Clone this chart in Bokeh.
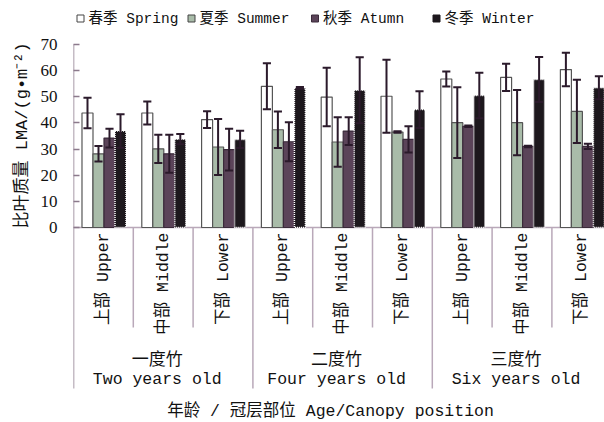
import math
from bokeh.plotting import figure
from bokeh.models import Range1d, FixedTicker, Title
from bokeh.core.properties import value
from bokeh.embed import file_html
from bokeh.resources import INLINE

# ---- data: leaf mass per area by stand age, canopy position and season ----
ages_cn = ["一度竹", "二度竹", "三度竹"]
ages_en = ["Two years old", "Four years old", "Six years old"]
positions = ["上部 Upper", "中部 Middle", "下部 Lower"]
seasons = ["春季 Spring", "夏季 Summer", "秋季 Atumn", "冬季 Winter"]
y_ticks = [0, 10, 20, 30, 40, 50, 60, 70]

spring = [43.8, 43.8, 41.3, 54.0, 49.9, 50.2, 56.8, 57.4, 60.4]
spring_err = [5.8, 4.4, 3.2, 8.8, 11.2, 14.0, 2.9, 5.2, 6.4]
summer = [28.2, 30.1, 30.8, 37.4, 32.7, 36.5, 40.1, 40.1, 44.4]
summer_err = [3.0, 5.4, 10.7, 7.0, 9.5, 0.3, 13.5, 12.5, 12.1]
autumn = [34.2, 28.2, 29.8, 32.8, 36.9, 33.7, 38.7, 31.0, 31.0]
autumn_err = [3.6, 7.3, 8.0, 7.5, 5.3, 5.0, 0.3, 0.3, 1.0]
winter = [36.9, 33.8, 33.7, 53.4, 52.5, 45.1, 50.5, 56.6, 53.5]
winter_err = [6.4, 2.0, 3.3, 0.3, 12.6, 7.0, 8.7, 8.6, 4.4]

# ---- styling ----
MIX = "'Liberation Mono', 'Noto Sans CJK SC'"
SERIF = "'Liberation Serif'"
fills = ["#ffffff", "#a9bca9", "#5b4459", "#1d181d"]
edges = ["#555555", "#555555", "#3a2a3a", "#ffffff"]
edge_dash = ["solid", "solid", "solid", "1 1"]
err_color = "#2b1a2b"
axis_color = "#8c7a8c"
sep_color = "#b9a8b9"

W, H = 604, 422
LEFT = 73
CAT_PX = 59.8           # width of one canopy-position slot
UNIT_PX = 183 / 70      # pixels per g/m2
ZERO_PX = 227           # canvas row of the zero line

def ypx(row):
    return (ZERO_PX - row) / UNIT_PX

def xpx(col):
    return (col - LEFT) / CAT_PX

p = figure(width=W, height=H, output_backend="svg", toolbar_location=None,
           x_axis_location=None, min_border_left=LEFT, min_border_right=0,
           min_border_top=0, min_border_bottom=0)
p.x_range = Range1d(0, (W - LEFT) / CAT_PX)
p.y_range = Range1d(ypx(H), ypx(0))
p.grid.visible = False
p.outline_line_color = None
p.background_fill_color = "white"
p.border_fill_color = "white"

ax = p.yaxis[0]
ax.ticker = FixedTicker(ticks=y_ticks)
ax.axis_line_color = None
ax.major_tick_in = 6
ax.major_tick_out = 0
ax.major_tick_line_color = axis_color
ax.major_tick_line_width = 1.5
ax.minor_tick_line_color = None
ax.major_label_text_font = SERIF
ax.major_label_text_font_size = "17px"
ax.major_label_text_color = "#111111"
ax.major_label_standoff = 16

# rotated y-axis title in the left panel, starting level with the zero line
p.add_layout(Title(text="比叶质量 LMA/(g•m⁻²)", align="left", offset=H - 228,
                   text_font=MIX, text_font_size="17px", text_font_style="normal",
                   text_color="#111111", standoff=12), "left")

# ---- axis frame lines and slot separators ----
n_cat = len(ages_cn) * len(positions)
low_sep = ypx(327)
low_grp = ypx(388)
p.segment(x0=[0], y0=[low_grp], x1=[0], y1=[70], line_color=axis_color, line_width=1.5)
p.segment(x0=[0], y0=[0], x1=[n_cat], y1=[0], line_color=sep_color, line_width=1.5)
cat_edges = [i for i in range(1, n_cat + 1) if i % 3]
grp_edges = [i for i in range(3, n_cat + 1, 3)]
p.segment(x0=cat_edges, y0=[0] * len(cat_edges), x1=cat_edges, y1=[low_sep] * len(cat_edges),
          line_color=sep_color, line_width=1.5)
p.segment(x0=grp_edges, y0=[0] * len(grp_edges), x1=grp_edges, y1=[low_grp] * len(grp_edges),
          line_color=sep_color, line_width=1.5)

# ---- bars and error bars ----
series = [spring, summer, autumn, winter]
errors = [spring_err, summer_err, autumn_err, winter_err]
bw = 0.184
cap = 0.068
for j, (vals, errs) in enumerate(zip(series, errors)):
    xs = [i + 0.51 + (j - 1.5) * bw for i in range(n_cat)]
    p.vbar(x=xs, top=vals, bottom=0, width=bw, fill_color=fills[j],
           line_color=edges[j], line_width=1.2 if j < 3 else 1.5, line_dash=edge_dash[j])
    lo = [v - e for v, e in zip(vals, errs)]
    hi = [v + e for v, e in zip(vals, errs)]
    p.segment(x0=xs, y0=lo, x1=xs, y1=hi, line_color=err_color, line_width=2)
    for ends in (lo, hi):
        p.segment(x0=[x - cap for x in xs], y0=ends, x1=[x + cap for x in xs], y1=ends,
                  line_color=err_color, line_width=2)

# ---- category, group and axis titles ----
p.text(x=[i + 0.5 for i in range(n_cat)], y=[ypx(232)] * n_cat,
       text=[positions[i % 3] for i in range(n_cat)], angle=math.pi / 2,
       text_align="right", text_baseline="middle", text_font=value(MIX),
       text_font_size=value("16.5px"), text_color="#111111")
gx = [1.4 + 3 * g for g in range(len(ages_cn))]
p.text(x=gx, y=[ypx(360)] * 3, text=ages_cn, text_align="center", text_baseline="middle",
       text_font=value(MIX), text_font_size=value("17px"), text_color="#111111")
p.text(x=gx, y=[ypx(379)] * 3, text=ages_en, text_align="center", text_baseline="middle",
       text_font=value(MIX), text_font_size=value("16.5px"), text_color="#111111")
p.text(x=[xpx(330)], y=[ypx(411)], text=["年龄 / 冠层部位 Age/Canopy position"],
       text_align="center", text_baseline="middle", text_font=value(MIX),
       text_font_size=value("16.5px"), text_color="#111111")

# ---- legend ----
leg_sq = [80, 191, 314.5, 436]
leg_y = ypx(18)
p.scatter(x=[xpx(c) for c in leg_sq], y=[leg_y] * 4, marker="square", size=7,
          fill_color=fills[:3] + ["#1d181d"], line_color=["#444444", "#444444", "#3a2a3a", "#1d181d"])
p.text(x=[xpx(c + 8) for c in leg_sq], y=[leg_y] * 4, text=seasons, text_align="left",
       text_baseline="middle", text_font=value(MIX), text_font_size=value("14.5px"),
       text_color="#111111")

open("out.html", "w").write(file_html(p, INLINE))
